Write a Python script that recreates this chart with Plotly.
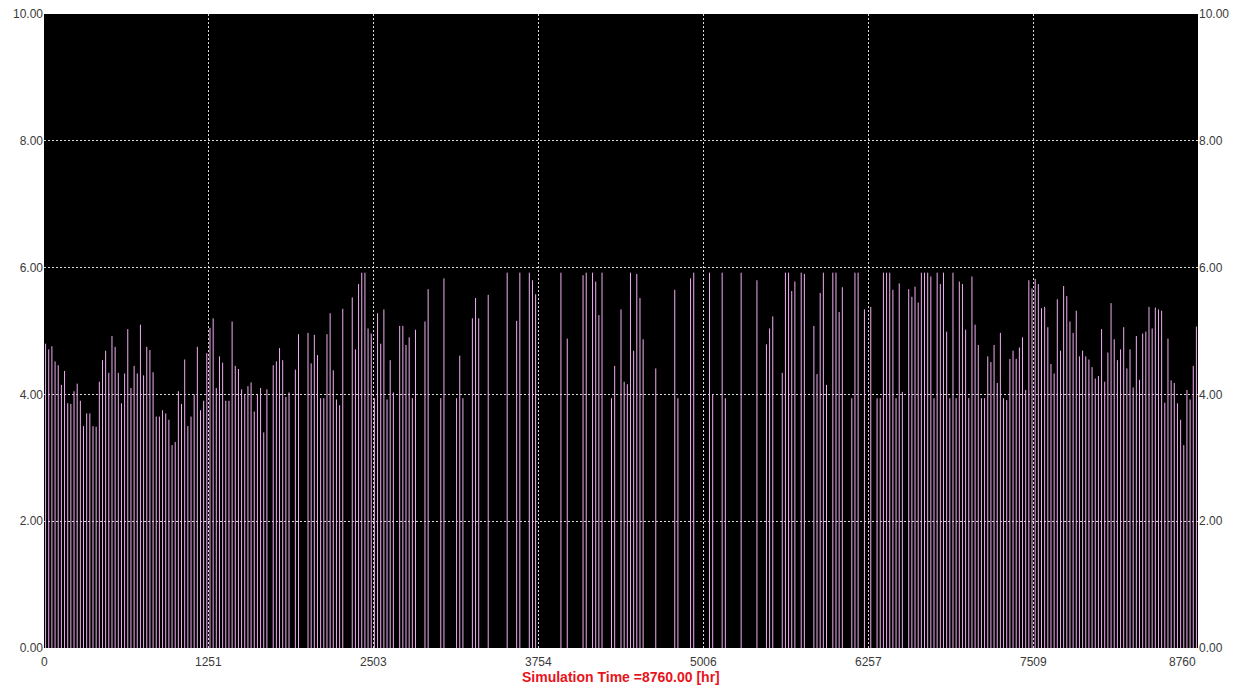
import plotly.graph_objects as go

# Daily peak values (one spike per simulated day, 0 = no spike that day)
jan = [4.8, 4.71, 4.76, 4.52, 4.46, 4.15, 4.37, 3.86, 3.85, 4.05, 4.17, 3.9, 3.5, 3.7, 3.7, 3.5,
       3.49, 4.2, 4.54, 4.69, 4.34, 4.92, 4.75, 4.34, 3.86, 4.33, 5.03, 4.1, 4.45, 4.33, 5.1]
feb = [4.3, 4.75, 4.7, 4.35, 3.65, 3.65, 3.75, 3.7, 3.6, 3.2, 3.25, 4.05, 3.85, 4.55, 3.5, 3.65,
       4.0, 4.75, 3.75, 3.9, 4.65, 5.05, 5.2, 4.1, 4.6, 4.5, 3.9, 3.9]
mar = [5.15, 4.45, 4.4, 4.08, 4.0, 4.13, 4.19, 3.73, 4.0, 4.1, 3.4, 4.08, 0, 4.46, 4.52, 4.73,
       4.54, 3.96, 4.03, 0, 4.39, 4.95, 0, 0, 4.97, 4.49, 4.94, 4.62, 3.94, 3.94, 4.95]
apr = [5.28, 4.38, 3.92, 3.83, 5.35, 0, 0, 5.53, 4.71, 5.74, 5.92, 5.92, 5.04, 4.96, 3.94, 5.28,
       4.8, 5.34, 3.92, 4.54, 4.03, 0, 5.08, 5.08, 4.78, 4.9, 3.94, 5.02, 0, 0]
may = [5.15, 5.66, 0, 0, 0, 3.94, 5.83, 0, 0, 0, 3.94, 4.61, 3.94, 0, 0, 5.2,
       5.52, 5.2, 0, 0, 5.57, 0, 0, 0, 0, 0, 5.92, 0, 0, 5.16, 5.92]
jun = [0, 0, 5.92, 5.8, 5.58, 0, 0, 0, 0, 0, 0, 0, 5.92, 0, 4.88, 0,
       0, 0, 0, 5.88, 5.92, 0, 5.92, 5.78, 5.25, 5.92, 0, 0, 3.94, 4.45]
jul = [0, 5.34, 4.2, 4.16, 5.92, 4.69, 5.9, 5.52, 4.87, 0, 0, 0, 4.41, 0, 0, 0,
       0, 0, 5.65, 3.94, 0, 0, 0, 5.83, 5.92, 0, 0, 0, 0, 5.92, 4.0]
aug = [0, 0, 5.92, 3.94, 0, 0, 0, 0, 5.92, 0, 0, 0, 0, 5.8, 0, 0,
       4.79, 5.04, 5.23, 0, 0, 4.34, 5.92, 5.92, 5.63, 5.78, 0, 5.92, 5.9, 0, 0]
sep = [5.08, 4.32, 5.6, 5.92, 4.15, 0, 5.92, 5.92, 5.3, 5.69, 0, 0, 3.94, 5.92, 5.92, 0,
       5.34, 0, 5.38, 0, 3.94, 3.94, 5.92, 5.92, 5.92, 5.65, 3.94, 5.75, 4.04, 0]
oct_ = [5.66, 5.54, 5.7, 5.45, 5.92, 5.92, 5.92, 5.86, 3.94, 5.92, 5.74, 5.92, 4.99, 3.94, 5.92, 3.94,
        5.78, 5.74, 5.02, 3.94, 5.86, 5.1, 4.78, 3.94, 3.94, 4.6, 4.51, 4.78, 4.18, 4.97, 3.94]
nov = [3.91, 4.56, 4.69, 4.56, 4.74, 4.9, 4.07, 5.8, 5.67, 5.82, 5.74, 5.36, 5.38, 5.06, 4.48, 4.33,
       5.5, 4.69, 5.71, 5.55, 5.15, 4.97, 5.32, 4.6, 4.69, 4.6, 4.55, 4.43, 4.25, 4.29]
dec = [5.03, 4.2, 4.66, 5.44, 4.87, 4.54, 4.71, 5.06, 4.41, 4.71, 4.11, 4.92, 4.23, 4.96, 4.99, 5.38,
       5.04, 5.37, 5.34, 5.32, 3.87, 4.88, 4.22, 4.18, 3.86, 3.6, 3.2, 4.07, 3.92, 4.45, 5.07]

x_ticks = [0, 1251, 2503, 3754, 5006, 6257, 7509, 8760]
y_ticks = [0, 2, 4, 6, 8, 10]
sim_end = 8760.0

daily = jan + feb + mar + apr + may + jun + jul + aug + sep + oct_ + nov + dec

# Each non-zero day becomes a vertical spike from 0 up to its value (mid-day)
xs, ys = [], []
for day, v in enumerate(daily):
    if v <= 0:
        continue
    h = day * 24 + 12
    xs += [h, h, None]
    ys += [0, v, None]

fig = go.Figure()
fig.add_trace(go.Scatter(x=xs, y=ys, mode="lines",
                         line=dict(color="#f0aef0", width=1),
                         hoverinfo="skip", showlegend=False))
# empty trace to carry the right-hand axis
fig.add_trace(go.Scatter(x=[], y=[], yaxis="y2", showlegend=False))

font_family = "Liberation Sans, Arial, sans-serif"
tick_font = dict(family=font_family, size=12, color="#3a3a3a")
grid = dict(showgrid=True, gridcolor="rgba(255,255,255,0.85)", gridwidth=1, griddash="2px,2px")

# x tick labels as annotations so the last one can sit flush with the plot edge
x_labels = []
for t in x_ticks:
    anchor = "right" if t == x_ticks[-1] else "center"
    x_labels.append(dict(text=str(t), x=t, xref="x", y=-0.008, yref="paper",
                         xanchor=anchor, yanchor="top", showarrow=False, font=tick_font))

fig.update_layout(
    width=1243, height=693,
    margin=dict(l=44, r=45, t=14, b=45),
    paper_bgcolor="white", plot_bgcolor="black",
    xaxis=dict(range=[0, 8760], tickvals=x_ticks, showticklabels=False, automargin=False,
               zeroline=False, showline=False, ticks="", **grid),
    yaxis=dict(range=[0, 10], tickvals=y_ticks, ticktext=[f"{t:.2f}" for t in y_ticks],
               automargin=False, zeroline=False, showline=False, ticks="", tickfont=tick_font,
               **grid),
    yaxis2=dict(range=[0, 10], tickvals=y_ticks, ticktext=[f"{t:.2f}" for t in y_ticks],
                overlaying="y", side="right", showgrid=False, zeroline=False, automargin=False,
                ticks="", tickfont=tick_font),
    annotations=x_labels + [
        dict(text=f"Simulation Time ={sim_end:.2f} [hr]", xref="paper", yref="paper",
             x=0.5, y=-0.03, xanchor="center", yanchor="top", showarrow=False,
             font=dict(family=font_family, size=14, color="#e8141b", weight="bold"))],
)

fig.write_html("out.html")
